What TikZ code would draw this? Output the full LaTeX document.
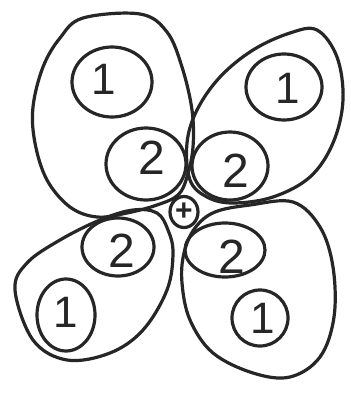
\documentclass[tikz,border=0pt]{standalone}
\usepackage{fontspec}
\setmainfont{Liberation Sans}
\usetikzlibrary{shapes.geometric}
\begin{document}
\begin{tikzpicture}[x=1pt,y=-1pt,
  pen/.style={line width=3.2pt,line cap=round,line join=round,black!85},
  ring/.style={pen,draw,ellipse,inner sep=0pt},
  one/.style={font=\fontsize{44}{44}\selectfont,inner sep=0pt,black!85},
  two/.style={font=\fontsize{48}{48}\selectfont,inner sep=0pt,black!85}]
\useasboundingbox[fill=white] (0,0) rectangle (351,394);
% petals
\draw[pen] plot[smooth cycle,tension=0.6] coordinates {(83,18) (140,14) (167,32) (182,67) (192,110) (193,147) (187,177) (178,195) (157,205) (127,213) (97,217) (70,207) (47,180) (35,143) (33,107) (43,67) (60,38)};
\draw[pen] plot[smooth cycle,tension=0.6] coordinates {(317,30) (337,57) (343,100) (333,143) (310,177) (273,197) (233,203) (207,197) (190,180) (187,143) (197,110) (220,77) (253,50) (290,33)};
\draw[pen] plot[smooth cycle,tension=0.6] coordinates {(15,290) (33,340) (67,360) (110,353) (143,330) (167,290) (173,253) (168,230) (157,213) (133,210) (100,220) (60,240) (27,263)};
\draw[pen] plot[smooth cycle,tension=0.6] coordinates {(293,202) (320,227) (333,267) (334,317) (320,357) (290,377) (253,373) (213,353) (190,320) (182,283) (184,253) (195,228) (215,212) (250,205)};
% rings
\node[ring,minimum width=80,minimum height=70] (tl1) at (112,82) {};
\node[ring,minimum width=80,minimum height=72] (tl2) at (146,164) {};
\node[ring,minimum width=76,minimum height=66] (tr1) at (284,87) {};
\node[ring,minimum width=76,minimum height=68] (tr2) at (230,166) {};
\node[ring,minimum width=72,minimum height=58] (bl2) at (118,247) {};
\node[ring,minimum width=58,minimum height=72] (bl1) at (66,315) {};
\node[ring,minimum width=80,minimum height=54] (br2) at (225,250) {};
\node[ring,minimum width=56,minimum height=56] (br1) at (260,318) {};
\node[ring,minimum width=28,minimum height=31] (core) at (184,212) {};
% labels
\node[one] (ttl1) at (104,79) {1};
\node[two] (ttl2) at (152,158) {2};
\node[one] (ttr1) at (288,88) {1};
\node[two] (ttr2) at (236,171) {2};
\node[two] (tbl2) at (122,251) {2};
\node[one] (tbl1) at (66,312) {1};
\node[two] (tbr2) at (232,257) {2};
\node[one] (tbr1) at (263,318) {1};
\node[font=\fontsize{30}{30}\selectfont\bfseries,inner sep=0pt,black!85] (plus) at (core) {+};
\end{tikzpicture}
\end{document}
